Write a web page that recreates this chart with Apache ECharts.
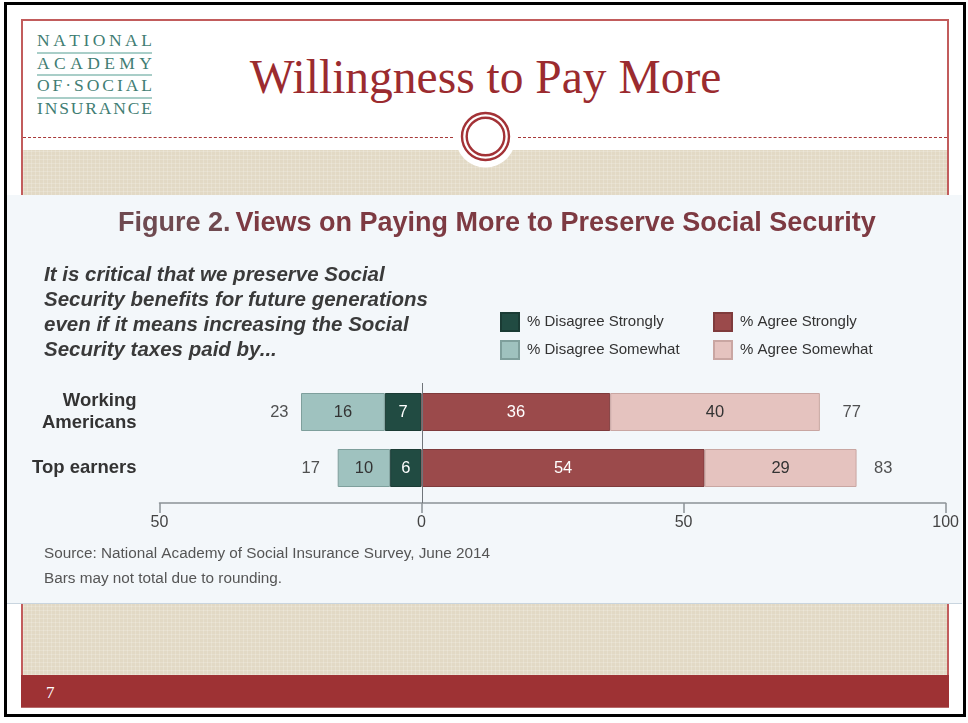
<!DOCTYPE html>
<html>
<head>
<meta charset="utf-8">
<script src="https://cdn.jsdelivr.net/npm/echarts@6/dist/echarts.min.js"></script>
<style>
  html, body { margin: 0; padding: 0; }
  body { width: 968px; height: 723px; position: relative; overflow: hidden; background: #fff; }
  .abs { position: absolute; box-sizing: border-box; }
  #outer { left: 4px; top: 2px; width: 962px; height: 715px; border: 3px solid #000; }
  #frame { left: 21px; top: 19px; width: 928px; height: 689px; border: 2px solid #c25c5c; border-bottom: none; }
  .beige {
    background-color: #e2d9c5;
    background-image:
      repeating-linear-gradient(0deg, rgba(255,255,255,0.18) 0 1px, transparent 1px 4px),
      repeating-linear-gradient(90deg, rgba(255,255,255,0.18) 0 1px, transparent 1px 4px);
  }
  #band1 { left: 23px; top: 150px; width: 924px; height: 46px; }
  #band2 { left: 23px; top: 604px; width: 924px; height: 71px; }
  .dash { top: 137px; height: 0; border-top: 1.5px dashed #a83a3a; }
  #footer { left: 21px; top: 675px; width: 928px; height: 33px; background: #9e3234; border-bottom: 1px solid #b86a6a; }
  #pagenum { left: 46px; top: 683px; color: #fff; font: 17px "Liberation Serif", "DejaVu Serif", serif; }
  #heading { left: 0; width: 971px; top: 50px; text-align: center; color: #9b2b2f;
    font: 47.5px "Liberation Serif", "DejaVu Serif", serif; white-space: nowrap; }
  #logo { left: 37px; top: 31px; width: 115px; color: #417d73; font: 17.5px "Liberation Serif", "DejaVu Serif", serif; }
  #logo div { display: flex; justify-content: space-between; height: 22.5px; line-height: 19px; box-sizing: border-box; }
  #logo div.rule { border-bottom: 2px solid #a9cec8; }
  #panel { left: 7px; top: 195px; width: 955px; height: 409px; background: #f3f7fa; border-bottom: 1px solid #c9d5df; }
</style>
</head>
<body>
<div id="outer" class="abs"></div>
<div id="frame" class="abs"></div>
<div id="band1" class="abs beige"></div>
<div id="band2" class="abs beige"></div>
<div class="abs dash" style="left:23px;width:430px;"></div>
<div class="abs dash" style="left:518px;width:429px;"></div>
<svg class="abs" style="left:455px;top:107px;" width="61" height="61" viewBox="0 0 61 61">
  <circle cx="30.5" cy="30.5" r="30" fill="#fff"/>
  <circle cx="30.5" cy="29.5" r="23.5" fill="none" stroke="#a33236" stroke-width="2.4"/>
  <circle cx="30.5" cy="29.5" r="18.8" fill="none" stroke="#a33236" stroke-width="2.4"/>
</svg>
<div id="logo" class="abs">
  <div class="rule">NATIONAL</div>
  <div class="rule">ACADEMY</div>
  <div class="rule">OF·SOCIAL</div>
  <div>INSURANCE</div>
</div>
<div id="heading" class="abs">Willingness to Pay More</div>
<div id="footer" class="abs"></div>
<div id="pagenum" class="abs">7</div>
<div id="panel" class="abs"></div>

<script>
// Spread each logo word across the full logo width, letter by letter
document.querySelectorAll('#logo div').forEach(row => {
  const word = row.textContent;
  row.textContent = '';
  for (const ch of word) {
    const s = document.createElement('span');
    s.textContent = ch;
    row.appendChild(s);
  }
});

// Survey responses (percent) for each group
const categories = ['Working\nAmericans', 'Top earners'];
const disagreeStrongly = [7, 6];
const disagreeSomewhat = [16, 10];
const agreeStrongly = [36, 54];
const agreeSomewhat = [40, 29];
const disagreeTotal = [23, 17];
const agreeTotal = [77, 83];

const colors = {
  '% Disagree Strongly': '#214b42',
  '% Disagree Somewhat': '#9fc2bf',
  '% Agree Strongly': '#9b4a4b',
  '% Agree Somewhat': '#e5c3bf'
};
const borderColors = {
  '% Disagree Strongly': '#1a3b34',
  '% Disagree Somewhat': '#7e9f9c',
  '% Agree Strongly': '#7f3b3c',
  '% Agree Somewhat': '#c9a6a2'
};
const labelColors = {
  '% Disagree Strongly': '#ffffff',
  '% Disagree Somewhat': '#333333',
  '% Agree Strongly': '#ffffff',
  '% Agree Somewhat': '#333333'
};

const FONT = '"Liberation Sans", Arial, sans-serif';

function barSeries(name, values) {
  return {
    name: name,
    type: 'bar',
    stack: 'total',
    barWidth: 38,
    data: values,
    itemStyle: { color: colors[name], borderColor: borderColors[name], borderWidth: 1 },
    label: {
      show: true,
      position: 'inside',
      color: labelColors[name],
      fontFamily: FONT,
      fontSize: 16.5,
      formatter: p => Math.abs(p.value)
    },
    emphasis: { disabled: true }
  };
}

function totalSeries(values, side) {
  return {
    type: 'scatter',
    symbolSize: 1,
    itemStyle: { color: 'rgba(0,0,0,0)' },
    data: values.map((v, i) => [side === 'left' ? -v : v, i]),
    label: {
      show: true,
      position: side,
      distance: side === 'left' ? 12 : 17,
      color: '#262626',
      fontFamily: FONT,
      fontSize: 16.5,
      formatter: p => Math.abs(p.value[0])
    },
    silent: true
  };
}

const legendBase = {
  orient: 'vertical', top: 112,
  itemWidth: 18, itemHeight: 18, itemGap: 8,
  icon: 'rect',
  textStyle: { fontFamily: FONT, fontSize: 15, color: '#333', padding: [0, 0, 0, 3] },
  selectedMode: false
};

const chart = echarts.init(document.getElementById('panel'), null, { renderer: 'canvas' });

chart.setOption({
  animation: false,
  backgroundColor: 'transparent',
  title: {
    left: 106,
    top: 10,
    text: '{a|Figure 2.} {b|Views on Paying More to Preserve Social Security}',
    textStyle: {
      rich: {
        a: { fontFamily: FONT, fontSize: 27, color: '#6f4a50' },
        b: { fontFamily: FONT, fontSize: 27, fontWeight: 'bold', color: '#7d3a42' }
      }
    }
  },
  legend: [
    Object.assign({ data: ['% Disagree Strongly', '% Disagree Somewhat'], left: 488 }, legendBase),
    Object.assign({ data: ['% Agree Strongly', '% Agree Somewhat'], left: 701 }, legendBase)
  ],
  graphic: [
    {
      type: 'text', left: 37, top: 68,
      style: {
        text: 'It is critical that we preserve Social\nSecurity benefits for future generations\neven if it means increasing the Social\nSecurity taxes paid by...',
        font: 'italic bold 20.5px "Liberation Sans", Arial, sans-serif',
        fill: '#3a3a3a', lineHeight: 25
      }
    },
    {
      type: 'text', left: 37, top: 346,
      style: {
        text: 'Source: National Academy of Social Insurance Survey, June 2014\nBars may not total due to rounding.',
        font: '15.3px "Liberation Sans", Arial, sans-serif',
        fill: '#555', lineHeight: 25
      }
    }
  ],
  grid: [
    { left: 152.5, right: 15, top: 189, height: 112 },
    { left: 152.5, right: 15, top: 188, height: 120 }
  ],
  xAxis: [
    {
      gridIndex: 0,
      type: 'value', min: -50, max: 100, interval: 50,
      offset: 7,
      axisLine: { show: true, lineStyle: { color: '#8c9297', width: 1.5 } },
      axisTick: { show: true, length: 10, lineStyle: { color: '#8c9297', width: 1.5 } },
      axisLabel: { margin: 12, fontFamily: FONT, fontSize: 16, color: '#444', formatter: v => Math.abs(v) },
      splitLine: { show: false }
    },
    { gridIndex: 1, type: 'value', min: -50, max: 100, show: false }
  ],
  yAxis: [
    {
      gridIndex: 0,
      type: 'category', inverse: true, data: categories,
      axisLine: { show: false }, axisTick: { show: false },
      axisLabel: { margin: 23, fontFamily: FONT, fontSize: 18.5, fontWeight: 'bold', color: '#333', lineHeight: 22 }
    },
    { gridIndex: 1, type: 'value', min: 0, max: 1, show: false }
  ],
  series: [
    barSeries('% Disagree Strongly', disagreeStrongly.map(v => -v)),
    barSeries('% Disagree Somewhat', disagreeSomewhat.map(v => -v)),
    barSeries('% Agree Strongly', agreeStrongly),
    barSeries('% Agree Somewhat', agreeSomewhat),
    totalSeries(disagreeTotal, 'left'),
    totalSeries(agreeTotal, 'right'),
    {
      type: 'line', xAxisIndex: 1, yAxisIndex: 1, data: [], silent: true,
      markLine: {
        symbol: 'none', silent: true, animation: false,
        label: { show: false },
        lineStyle: { color: '#6f7479', width: 1, type: 'solid' },
        data: [{ xAxis: 0 }]
      }
    }
  ]
});
</script>
</body>
</html>
